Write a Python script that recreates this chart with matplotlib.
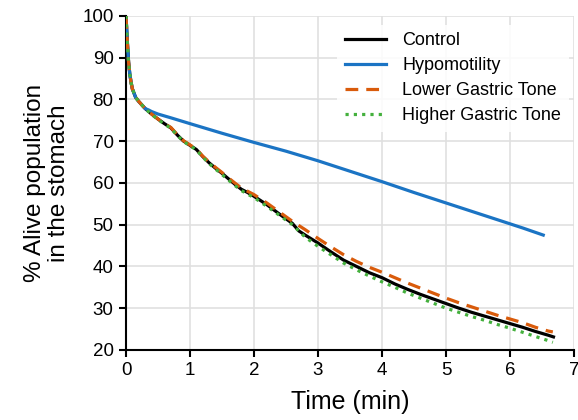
import matplotlib
matplotlib.use("Agg")
import matplotlib.pyplot as plt

# shared initial drop (all conditions overlap here)
t_early = [0.0, 0.01, 0.02, 0.04, 0.06, 0.08, 0.10, 0.15, 0.20, 0.30]
y_early = [100.0, 97.0, 94.0, 89.0, 86.0, 84.0, 82.5, 80.5, 79.5, 77.8]

t_ctrl = [0.4, 0.5, 0.6, 0.7, 0.8, 0.9, 1.0, 1.1, 1.2, 1.3, 1.4, 1.5, 1.6, 1.7, 1.8, 1.9,
          2.0, 2.2, 2.4, 2.6, 2.7, 2.8, 3.0, 3.2, 3.4, 3.6, 3.8, 4.0, 4.2, 4.4, 4.6, 4.8,
          5.0, 5.2, 5.4, 5.6, 5.8, 6.0, 6.2, 6.4, 6.6, 6.68]
y_ctrl = [76.5, 75.3, 74.2, 73.2, 71.5, 70.0, 69.0, 68.0, 66.3, 64.8, 63.5, 62.3, 61.0, 59.7, 58.5, 57.7,
          56.8, 54.8, 52.5, 50.3, 48.5, 47.5, 45.6, 43.5, 41.5, 40.0, 38.5, 37.3, 35.8, 34.5, 33.3, 32.2,
          31.1, 30.0, 29.0, 28.1, 27.2, 26.3, 25.4, 24.4, 23.5, 23.1]

t_hypo = [0.35, 0.4, 0.5, 0.7, 1.0, 1.5, 2.0, 2.5, 3.0, 3.5, 4.0, 4.5, 5.0, 5.5, 6.0, 6.2, 6.52]
y_hypo = [77.5, 77.1, 76.5, 75.6, 74.2, 71.9, 69.7, 67.6, 65.3, 62.8, 60.3, 57.7, 55.2, 52.7, 50.2, 49.2, 47.5]

t_lower = [0.4, 0.5, 0.6, 0.7, 0.8, 0.9, 1.0, 1.1, 1.2, 1.3, 1.4, 1.5, 1.6, 1.7, 1.8, 1.9,
           2.0, 2.2, 2.4, 2.6, 2.8, 3.0, 3.2, 3.4, 3.6, 3.8, 4.0, 4.2, 4.4, 4.6, 4.8,
           5.0, 5.2, 5.4, 5.6, 5.8, 6.0, 6.2, 6.4, 6.6, 6.67]
y_lower = [76.5, 75.3, 74.2, 73.3, 71.6, 70.1, 69.1, 68.1, 66.4, 65.0, 63.7, 62.5, 61.2, 60.0, 58.8, 58.0,
           57.2, 55.2, 53.0, 50.8, 48.8, 46.7, 44.7, 42.8, 41.2, 39.8, 38.6, 37.3, 36.0, 34.8, 33.6,
           32.4, 31.3, 30.3, 29.3, 28.3, 27.4, 26.5, 25.4, 24.5, 24.3]

t_higher = [0.4, 0.5, 0.6, 0.7, 0.8, 0.9, 1.0, 1.1, 1.2, 1.3, 1.4, 1.5, 1.6, 1.7, 1.8, 1.9,
            2.0, 2.2, 2.4, 2.6, 2.8, 3.0, 3.2, 3.4, 3.6, 3.8, 4.0, 4.2, 4.4, 4.6, 4.8,
            5.0, 5.2, 5.4, 5.6, 5.8, 6.0, 6.2, 6.4, 6.6, 6.67]
y_higher = [76.4, 75.2, 74.1, 73.1, 71.4, 69.9, 68.9, 67.9, 66.2, 64.6, 63.3, 62.0, 60.7, 59.4, 58.2, 57.3,
            56.5, 54.4, 52.2, 50.0, 47.0, 44.8, 42.8, 40.8, 39.2, 37.7, 36.3, 35.0, 33.6, 32.4, 31.2,
            30.0, 29.0, 28.0, 27.1, 26.1, 25.2, 24.2, 23.2, 22.2, 21.8]

labels = ["Control", "Hypomotility", "Lower Gastric Tone", "Higher Gastric Tone"]
colors = ["#000000", "#1b74c4", "#d95b0b", "#44b03d"]

plt.rcParams['font.family'] = ['Liberation Sans', 'DejaVu Sans']

fig = plt.figure(figsize=(5.78, 4.2), dpi=100)
ax = fig.add_axes([0.218, 0.167, 0.775, 0.795])

ax.plot(t_early + t_ctrl, y_early + y_ctrl, color=colors[0], lw=2.3, label=labels[0], zorder=3)
ax.plot(t_early + t_hypo, y_early + y_hypo, color=colors[1], lw=2.3, label=labels[1], zorder=3)
ax.plot(t_early + t_lower, y_early + y_lower, color=colors[2], lw=2.3, ls=(0, (4, 2.5)),
        label=labels[2], zorder=4)
ax.plot(t_early + t_higher, y_early + y_higher, color=colors[3], lw=2.3, ls=(0, (1, 1.6)),
        label=labels[3], zorder=5)

ax.set_xlim(0, 7)
ax.set_ylim(20, 100)
ax.set_xticks(range(0, 8))
ax.set_yticks(range(20, 101, 10))
ax.grid(True, color="#e0e0e0", lw=1.2)
ax.set_axisbelow(True)
for s in ["top", "right"]:
    ax.spines[s].set_visible(False)
for s in ["left", "bottom"]:
    ax.spines[s].set_linewidth(1.5)
ax.tick_params(direction="out", length=5, width=1.5, labelsize=13.5, pad=4)

ax.set_xlabel("Time (min)", fontsize=18, labelpad=8)
ax.set_ylabel("% Alive population\nin the stomach", fontsize=17.5, labelpad=9, linespacing=1.1)

leg = ax.legend(loc="upper right", bbox_to_anchor=(1.0, 0.99), fontsize=13, frameon=True,
                edgecolor="none", facecolor="white", framealpha=0.85,
                handlelength=2.3, handletextpad=0.9, labelspacing=0.45, borderaxespad=0.3)

fig.savefig("out.png", dpi=100)
